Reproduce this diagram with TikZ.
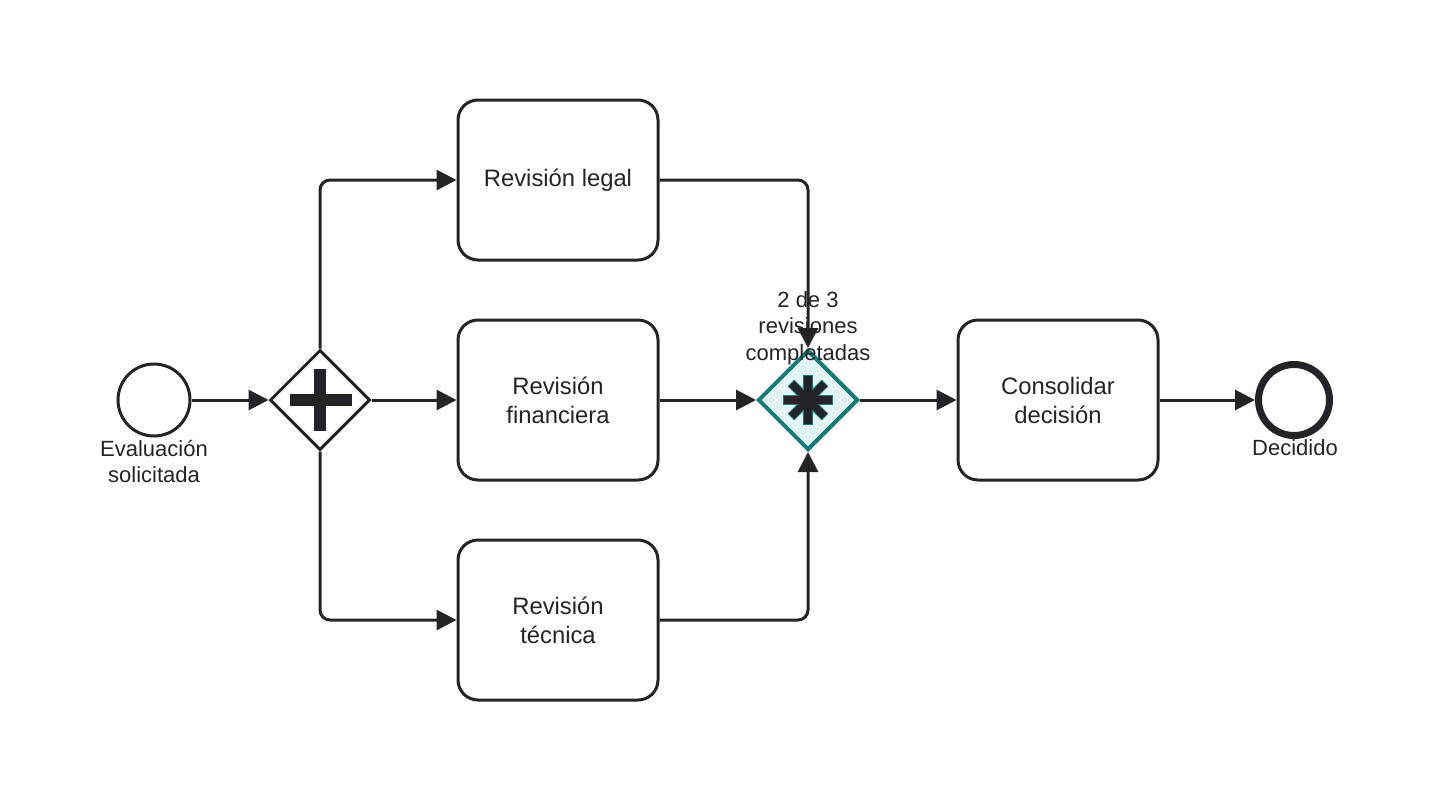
\documentclass[tikz,border=0pt]{standalone}
\usepackage{fontspec}
\setmainfont{Liberation Sans}
\usetikzlibrary{arrows.meta,shapes.geometric}
\definecolor{ink}{HTML}{232328}
\definecolor{tealline}{HTML}{137B77}
\definecolor{tealfill}{HTML}{E2F4F4}
\begin{document}
\begin{tikzpicture}[x=1pt,y=-1pt,
  task/.style={draw=ink,line width=3pt,rounded corners=20pt,minimum width=200pt,minimum height=160pt,inner sep=0pt,align=center,text=ink,font=\fontsize{23.8}{29}\selectfont},
  gate/.style={diamond,aspect=1,draw=ink,line width=3pt,minimum width=100pt,minimum height=100pt,inner sep=0pt},
  evt/.style={circle,draw=ink,inner sep=0pt},
  lbl/.style={align=center,text=ink,inner sep=0pt,font=\fontsize{22}{26.5}\selectfont},
  flow/.style={draw=ink,line width=3pt,rounded corners=10pt,-{Triangle[length=20pt,width=20pt]}}
]
\useasboundingbox (0,0) rectangle (1438,800);
% events
\node[evt,line width=3pt,minimum size=72pt] (start) at (154,400) {};
\node[lbl] (startlbl) at (154,461.5) {Evaluación\\solicitada};
\node[evt,line width=7pt,minimum size=71pt] (end) at (1294,400) {};
\node[lbl] (endlbl) at (1295,448) {Decidido};
% parallel gateway
\node[gate,fill=white] (pg) at (320,400) {};
\fill[ink] (290,394) rectangle (352,406);
\fill[ink] (314,369) rectangle (326,431);
% tasks
\node[task] (legal) at (558,180) {Revisión legal};
\node[task] (fin) at (558,400) {Revisión\\financiera};
\node[task] (tec) at (558,620) {Revisión\\técnica};
\node[task] (cons) at (1058,400) {Consolidar\\decisión};
% complex gateway
\node[gate,draw=tealline,fill=tealfill,line width=4pt] (cg) at (808,400) {};
\begin{scope}[shift={(808,400)}]
  \foreach \a/\l in {0/24,90/24,45/23,135/23}{
    \draw[tealline,line width=2.2pt,rotate=\a] (-\l,-3.6) rectangle (\l,3.6);
  }
  \foreach \a/\l in {0/24,90/24,45/23,135/23}{
    \fill[ink,rotate=\a] (-\l,-3.6) rectangle (\l,3.6);
  }
\end{scope}
\node[lbl] (cglbl) at (808,328) {2 de 3\\revisiones\\completadas};
% flows
\draw[flow] (start) -- (pg.west);
\draw[flow] (pg.north) |- (legal.west);
\draw[flow] (pg.east) -- (fin.west);
\draw[flow] (pg.south) |- (tec.west);
\draw[flow] (legal.east) -| (cg.north);
\draw[flow] (fin.east) -- (cg.west);
\draw[flow] (tec.east) -| (cg.south);
\draw[flow] (cg.east) -- (cons.west);
\draw[flow] (cons.east) -- (end.west);
\end{tikzpicture}
\end{document}
